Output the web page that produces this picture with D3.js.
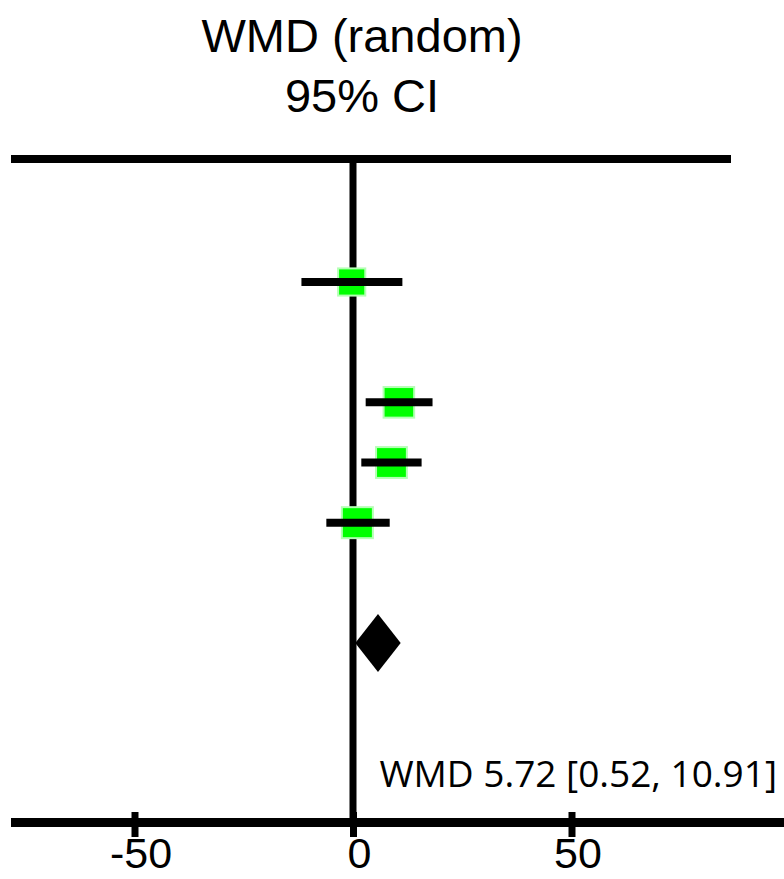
<!DOCTYPE html>
<html>
<head>
<meta charset="utf-8">
<script src="https://cdn.jsdelivr.net/npm/d3@7"></script>
<style>
  html, body { margin: 0; padding: 0; background: #ffffff; }
  svg { display: block; }
</style>
</head>
<body>
<script>
// forest plot, WMD random effects

var rows = ["s1", "s2", "s3", "s4", "s5", "gap", "total"];
var studyRow = ["s1", "s2", "s3", "s4", "s5"];
var studyMean = [-0.3, null, 10.5, 8.8, 1.0];
var studyLower = [-11.8, null, 2.9, 1.9, -6.1];
var studyUpper = [11.3, null, 18.2, 15.7, 8.4];
var studyWeight = [20.6, null, 26.1, 26.5, 26.8];

var pooled = [5.72, 0.52, 10.91];
var pooledLabel = "WMD 5.72 [0.52, 10.91]";

var tickValues = [-50, 0, 50];
var titleLines = ["WMD (random)", "95% CI"];

var width = 784;
var height = 879;

var svg = d3.select("body")
        .append("svg")
        .attr("width", width)
        .attr("height", height)
        .style("background", "#ffffff");

var x = d3.scaleLinear()
        .domain([-50, 50])
        .range([134.5, 571.5]);

var y = d3.scalePoint()
        .domain(rows)
        .range([282, 643]);

var size = d3.scaleSqrt()
        .domain([0, d3.max(studyWeight)])
        .range([0, 31]);

var studies = studyRow.map(function(r, i) {
    return {row: r, mean: studyMean[i], lo: studyLower[i], hi: studyUpper[i], w: studyWeight[i]};
}).filter(function(d) { return d.mean != null; });

// title
svg.selectAll("text.title")
        .data(titleLines)
        .enter()
        .append("text")
        .attr("class", "title")
        .attr("x", 362)
        .attr("y", function(d, i) { return 52 + i * 60; })
        .attr("text-anchor", "middle")
        .style("font-family", "'Liberation Sans', Arial, sans-serif")
        .style("font-size", "47px")
        .attr("fill", "#000")
        .text(function(d) { return d; });

// top rule
svg.append("line")
        .attr("x1", 11)
        .attr("x2", 731)
        .attr("y1", 159)
        .attr("y2", 159)
        .attr("stroke", "#000")
        .attr("stroke-width", 8);

// line of no effect
svg.append("line")
        .attr("x1", x(0))
        .attr("x2", x(0))
        .attr("y1", 159)
        .attr("y2", 822)
        .attr("stroke", "#000")
        .attr("stroke-width", 7);

// study squares
svg.selectAll("rect.study")
        .data(studies)
        .enter()
        .append("rect")
        .attr("class", "study")
        .attr("x", function(d) { return x(d.mean) - size(d.w) / 2; })
        .attr("y", function(d) { return y(d.row) - size(d.w) / 2; })
        .attr("width", function(d) { return size(d.w); })
        .attr("height", function(d) { return size(d.w); })
        .attr("fill", "#00ff00")
        .attr("stroke", "#b4ffb4")
        .attr("stroke-width", 2);

// confidence intervals
svg.selectAll("line.ci")
        .data(studies)
        .enter()
        .append("line")
        .attr("class", "ci")
        .attr("x1", function(d) { return x(d.lo); })
        .attr("x2", function(d) { return x(d.hi); })
        .attr("y1", function(d) { return y(d.row); })
        .attr("y2", function(d) { return y(d.row); })
        .attr("stroke", "#000")
        .attr("stroke-width", 8);

// pooled diamond
var yt = y("total");
svg.append("polygon")
        .attr("points", [
            [x(pooled[1]), yt],
            [x(pooled[0]), yt - 29],
            [x(pooled[2]), yt],
            [x(pooled[0]), yt + 29]
        ].map(function(p) { return p.join(","); }).join(" "))
        .attr("fill", "#000");

svg.append("text")
        .attr("x", 777)
        .attr("y", 787)
        .attr("text-anchor", "end")
        .style("font-family", "'Open Sans', 'Noto Sans', sans-serif")
        .style("font-size", "37px")
        .attr("fill", "#000")
        .text(pooledLabel);

// bottom axis
svg.append("line")
        .attr("x1", 11)
        .attr("x2", width)
        .attr("y1", 822.5)
        .attr("y2", 822.5)
        .attr("stroke", "#000")
        .attr("stroke-width", 9);

var axis = d3.axisBottom(x)
        .tickValues(tickValues)
        .tickFormat(d3.format("d"))
        .tickSizeInner(15)
        .tickSizeOuter(0)
        .tickPadding(6);

var g = svg.append("g")
        .attr("transform", "translate(0,822)")
        .call(axis);

g.select(".domain").remove();
g.selectAll(".tick line")
        .attr("y1", -10)
        .attr("stroke", "#000")
        .attr("stroke-width", 7);
g.selectAll(".tick text")
        .attr("dx", 6)
        .attr("dy", 0)
        .attr("y", 46)
        .attr("fill", "#000")
        .style("font-family", "'Liberation Sans', Arial, sans-serif")
        .style("font-size", "43px")
        .text(function(d) { return d < 0 ? "-" + Math.abs(d) : d; });
</script>
</body>
</html>
